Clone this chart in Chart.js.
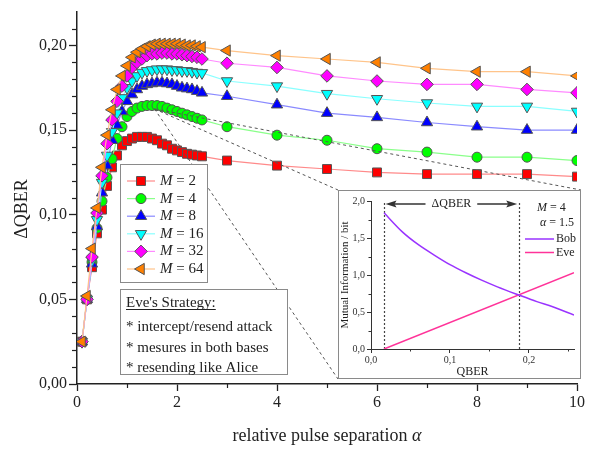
<!DOCTYPE html>
<html><head><meta charset="utf-8">
<script src="https://cdn.jsdelivr.net/npm/chart.js@4.4.1/dist/chart.umd.min.js"></script>
<style>
html,body{margin:0;padding:0;background:#fff;}
#wrap{position:relative;width:595px;height:449px;overflow:hidden;}
#main{position:absolute;left:0;top:0;}
#inset{position:absolute;}
</style></head>
<body><div id="wrap"><canvas id="main" width="595" height="449"></canvas><canvas id="inset"></canvas></div>
<script>
// ---------------- data ----------------
const alphaValues = [0.1,0.2,0.3,0.4,0.5,0.6,0.7,0.8,0.9,1.0,1.1,1.2,1.3,1.4,1.5,1.6,1.7,1.8,1.9,2.0,2.1,2.2,2.3,2.4,2.5,3,4,5,6,7,8,9,10];
const seriesM2  = [0.025,0.050,0.069,0.089,0.103,0.117,0.128,0.135,0.141,0.1435,0.145,0.146,0.146,0.146,0.145,0.144,0.142,0.141,0.139,0.138,0.137,0.136,0.1355,0.135,0.1345,0.132,0.129,0.127,0.125,0.124,0.124,0.124,0.1225];
const seriesM4  = [0.025,0.050,0.072,0.092,0.108,0.122,0.133,0.145,0.152,0.158,0.161,0.163,0.164,0.1645,0.1645,0.1645,0.164,0.163,0.162,0.161,0.160,0.159,0.158,0.157,0.156,0.152,0.147,0.144,0.139,0.137,0.134,0.134,0.132];
const seriesM8  = [0.025,0.050,0.071,0.093,0.113,0.129,0.144,0.153,0.161,0.167,0.171,0.174,0.176,0.177,0.1775,0.178,0.178,0.1775,0.177,0.176,0.175,0.1745,0.174,0.173,0.172,0.170,0.165,0.160,0.1575,0.1545,0.152,0.150,0.150];
const seriesM16 = [0.025,0.050,0.073,0.097,0.119,0.135,0.149,0.160,0.169,0.175,0.179,0.182,0.184,0.185,0.1855,0.186,0.186,0.186,0.1855,0.1855,0.185,0.185,0.1845,0.184,0.1838,0.179,0.176,0.1715,0.1685,0.166,0.164,0.164,0.161];
const seriesM32 = [0.025,0.050,0.075,0.101,0.123,0.142,0.156,0.167,0.176,0.182,0.187,0.190,0.192,0.194,0.195,0.195,0.1955,0.1955,0.195,0.195,0.1945,0.194,0.1935,0.193,0.192,0.1895,0.187,0.182,0.179,0.177,0.177,0.174,0.172];
const seriesM64 = [0.025,0.052,0.080,0.104,0.128,0.147,0.162,0.174,0.182,0.188,0.193,0.196,0.198,0.1995,0.2005,0.201,0.201,0.201,0.201,0.201,0.2005,0.200,0.200,0.1995,0.199,0.197,0.194,0.192,0.190,0.1865,0.1845,0.1845,0.182];
const mLabels = ['2','4','8','16','32','64'];
const xTickValues = [0,2,4,6,8,10];
const yTickValues = [0,0.05,0.10,0.15,0.20];
const zoomPoint = [1.55, 0.1625];

const eveTitle = "Eve's Strategy:";
const eveLines = ['* intercept/resend attack','* mesures in both bases','* resending like Alice'];

// inset data
const bobQber = [0.0165,0.04,0.06,0.08,0.10,0.12,0.14,0.16,0.187,0.21,0.23,0.257];
const bobInfo = [1.84,1.58,1.41,1.27,1.14,1.03,0.93,0.84,0.73,0.64,0.57,0.46];
const eveQber = [0.0165,0.257];
const eveInfo = [0.0,1.03];
const deltaQberBounds = [0.0165,0.187];
const insetXTicks = [0,0.1,0.2];
const insetYTicks = [0,0.5,1.0,1.5,2.0];

// ---------------- styles ----------------
const FONT = "'Liberation Serif','Times New Roman',serif";
const markerColors = ['#ff0000','#00ff00','#0000ff','#00ffff','#ff00ff','#ff8000'];
const lineColors = ['#ff8a8a','#8aff8a','#8a8aff','#8affff','#ff8aff','#ffc48a'];
const markerStyles = [
  {s:'rect',r:6.3,rot:0},{s:'circle',r:5,rot:0},{s:'triangle',r:6.5,rot:0},
  {s:'triangle',r:6.5,rot:180},{s:'rectRot',r:6.3,rot:0},{s:'triangle',r:6.5,rot:270}];
const allSeries = [seriesM2,seriesM4,seriesM8,seriesM16,seriesM32,seriesM64];

const INSET = {left:338, top:190, width:243, height:189};

const comma = (v,d)=>v.toFixed(d).replace('.',',');

// ---------------- main chart ----------------
const mainDecor = {
  id:'mainDecor',
  afterDatasetsDraw(chart){
    const ctx = chart.ctx, xs = chart.scales.x, ys = chart.scales.y;
    ctx.save();
    const px = xs.getPixelForValue(zoomPoint[0]), py = ys.getPixelForValue(zoomPoint[1]);
    ctx.strokeStyle = '#555'; ctx.lineWidth = 1; ctx.setLineDash([3,3]);
    [[INSET.left,INSET.top],[INSET.left,INSET.top+INSET.height],[INSET.left+INSET.width,INSET.top]].forEach(c=>{
      ctx.beginPath(); ctx.moveTo(px,py); ctx.lineTo(c[0],c[1]); ctx.stroke();
    });
    ctx.setLineDash([]);
    // legend box
    ctx.fillStyle = '#fff'; ctx.strokeStyle = '#8a8a8a'; ctx.lineWidth = 1;
    ctx.fillRect(120.5,164.5,87,118); ctx.strokeRect(120.5,164.5,87,118);
    chart.data.datasets.forEach((ds,i)=>{
      const yy = 181 + i*17.6;
      ctx.strokeStyle = ds.borderColor; ctx.lineWidth = 1.2;
      ctx.beginPath(); ctx.moveTo(127,yy); ctx.lineTo(155,yy); ctx.stroke();
      ctx.fillStyle = ds.pointBackgroundColor; ctx.strokeStyle = ds.pointBorderColor; ctx.lineWidth = 1;
      Chart.helpers.drawPoint(ctx,{pointStyle:ds.pointStyle,rotation:ds.pointRotation,radius:ds.pointRadius,borderWidth:1},141,yy);
      ctx.fillStyle = '#222'; ctx.textBaseline = 'middle'; ctx.textAlign = 'left';
      ctx.font = 'italic 15px ' + FONT; ctx.fillText('M',160,yy);
      const w = ctx.measureText('M').width;
      ctx.font = '15px ' + FONT; ctx.fillText(' = ' + mLabels[i],160+w,yy);
    });
    // Eve box
    ctx.fillStyle = '#fff'; ctx.strokeStyle = '#8a8a8a'; ctx.lineWidth = 1;
    ctx.fillRect(120.5,289.5,167,85); ctx.strokeRect(120.5,289.5,167,85);
    ctx.fillStyle = '#222'; ctx.font = '15px ' + FONT; ctx.textBaseline = 'alphabetic';
    ctx.fillText(eveTitle,126,307);
    const tw = ctx.measureText(eveTitle).width;
    ctx.strokeStyle = '#222'; ctx.lineWidth = 1;
    ctx.beginPath(); ctx.moveTo(126,309.5); ctx.lineTo(126+tw,309.5); ctx.stroke();
    eveLines.forEach((t,i)=>ctx.fillText(t,126,331+i*20.5));
    ctx.restore();
  },
  afterDraw(chart){
    const ctx = chart.ctx, xs = chart.scales.x, ys = chart.scales.y, a = chart.chartArea;
    ctx.save();
    ctx.strokeStyle = '#222'; ctx.lineWidth = 1.2;
    for(let i=1;i<=21;i++){ if(i%5===0) continue;
      const p = Math.round(ys.getPixelForValue(i/100))+0.5;
      ctx.beginPath(); ctx.moveTo(a.left-5,p); ctx.lineTo(a.left,p); ctx.stroke(); }
    for(let v=1;v<10;v+=2){
      const p = Math.round(xs.getPixelForValue(v))+0.5;
      ctx.beginPath(); ctx.moveTo(p,a.bottom); ctx.lineTo(p,a.bottom+4); ctx.stroke(); }
    ctx.fillStyle = '#222'; ctx.textBaseline = 'middle';
    ctx.font = '18px ' + FONT;
    const t1 = 'relative pulse separation ';
    const w1 = ctx.measureText(t1).width;
    ctx.font = 'italic 18px ' + FONT;
    const w2 = ctx.measureText('α').width;
    const x0 = (a.left+a.right)/2 - (w1+w2)/2;
    ctx.font = '18px ' + FONT; ctx.textAlign = 'left';
    ctx.fillText(t1,x0,436);
    ctx.font = 'italic 18px ' + FONT; ctx.fillText('α',x0+w1,436);
    ctx.translate(22,209); ctx.rotate(-Math.PI/2);
    ctx.font = '18px ' + FONT; ctx.textAlign = 'center';
    ctx.fillText('ΔQBER',0,0);
    ctx.restore();
  }
};

new Chart(document.getElementById('main'),{
  type:'line',
  data:{datasets: allSeries.map((s,i)=>({
    label:'M = '+mLabels[i],
    data: alphaValues.map((a,j)=>({x:a,y:s[j]})),
    borderColor: lineColors[i], borderWidth:1.2,
    pointBackgroundColor: markerColors[i], pointBorderColor:'#555', pointBorderWidth:1,
    pointStyle: markerStyles[i].s, pointRadius: markerStyles[i].r, pointRotation: markerStyles[i].rot,
    tension:0, fill:false, order: 6-i
  }))},
  options:{
    responsive:false, animation:false, devicePixelRatio:1,
    layout:{padding:{left:0,right:18,top:8,bottom:0}},
    plugins:{legend:{display:false},tooltip:{enabled:false}},
    scales:{
      x:{type:'linear',min:0,max:10,
        afterBuildTicks:s=>{s.ticks = xTickValues.map(v=>({value:v}));},
        afterFit:s=>{s.height = 65;},
        grid:{drawOnChartArea:false,drawTicks:true,tickLength:7,tickColor:'#222',tickWidth:1.3},
        border:{color:'#222',width:1.5},
        ticks:{color:'#222',font:{family:FONT,size:16},padding:2,maxRotation:0,autoSkip:false,callback:v=>String(v)}
      },
      y:{type:'linear',min:0,max:0.22,
        afterBuildTicks:s=>{s.ticks = yTickValues.map(v=>({value:v}));},
        afterFit:s=>{s.width = 77;},
        grid:{drawOnChartArea:false,drawTicks:true,tickLength:8,tickColor:'#222',tickWidth:1.3},
        border:{color:'#222',width:1.5},
        ticks:{color:'#222',font:{family:FONT,size:16},padding:2,autoSkip:false,callback:v=>comma(v,2)}
      }
    }
  },
  plugins:[mainDecor]
});

// ---------------- inset chart ----------------
const ic = document.getElementById('inset');
ic.width = INSET.width; ic.height = INSET.height;
ic.style.left = INSET.left+'px'; ic.style.top = INSET.top+'px';

const insetDecor = {
  id:'insetDecor',
  beforeDraw(chart){ const c = chart.ctx; c.save(); c.fillStyle='#fff'; c.fillRect(0,0,chart.width,chart.height); c.restore(); },
  beforeDatasetsDraw(chart){
    const ctx = chart.ctx, xs = chart.scales.x, ys = chart.scales.y;
    ctx.save(); ctx.strokeStyle = '#444'; ctx.lineWidth = 1.2; ctx.setLineDash([2,2]);
    deltaQberBounds.forEach(b=>{ const p = Math.round(xs.getPixelForValue(b))+0.5;
      ctx.beginPath(); ctx.moveTo(p,ys.getPixelForValue(0)); ctx.lineTo(p,ys.getPixelForValue(2.0)); ctx.stroke(); });
    ctx.restore();
  },
  afterDraw(chart){
    const ctx = chart.ctx, xs = chart.scales.x, ys = chart.scales.y, a = chart.chartArea;
    ctx.save();
    ctx.strokeStyle = '#333'; ctx.lineWidth = 1;
    [0.05,0.15,0.25].forEach(v=>{ const p = Math.round(xs.getPixelForValue(v))+0.5;
      ctx.beginPath(); ctx.moveTo(p,a.bottom); ctx.lineTo(p,a.bottom+2.5); ctx.stroke(); });
    [0.25,0.75,1.25,1.75].forEach(v=>{ const p = Math.round(ys.getPixelForValue(v))+0.5;
      ctx.beginPath(); ctx.moveTo(a.left-2.5,p); ctx.lineTo(a.left,p); ctx.stroke(); });
    const x1 = xs.getPixelForValue(deltaQberBounds[0])+1.5, x2 = xs.getPixelForValue(deltaQberBounds[1])-1.5;
    const ya = ys.getPixelForValue(1.96);
    const mid = (x1+x2)/2;
    ctx.font = '12px ' + FONT;
    const tw = ctx.measureText('ΔQBER').width;
    ctx.strokeStyle = '#333'; ctx.lineWidth = 1.6;
    ctx.beginPath(); ctx.moveTo(x1+8,ya); ctx.lineTo(mid-tw/2-6,ya); ctx.moveTo(mid+tw/2+6,ya); ctx.lineTo(x2-8,ya); ctx.stroke();
    ctx.fillStyle = '#333';
    ctx.beginPath(); ctx.moveTo(x1,ya); ctx.lineTo(x1+11,ya-3.5); ctx.lineTo(x1+9,ya); ctx.lineTo(x1+11,ya+3.5); ctx.closePath(); ctx.fill();
    ctx.beginPath(); ctx.moveTo(x2,ya); ctx.lineTo(x2-11,ya-3.5); ctx.lineTo(x2-9,ya); ctx.lineTo(x2-11,ya+3.5); ctx.closePath(); ctx.fill();
    ctx.fillStyle = '#222'; ctx.textAlign = 'center'; ctx.textBaseline = 'middle';
    ctx.fillText('ΔQBER',mid,ya);
    const L = INSET.left, T = INSET.top;
    ctx.textAlign = 'left';
    ctx.font = 'italic 12px ' + FONT; ctx.fillText('M',537-L,208-T);
    let w = ctx.measureText('M').width;
    ctx.font = '12px ' + FONT; ctx.fillText(' = 4',537-L+w,208-T);
    ctx.font = 'italic 12px ' + FONT; ctx.fillText('α',540-L,223-T);
    w = ctx.measureText('α').width;
    ctx.font = '12px ' + FONT; ctx.fillText(' = 1.5',540-L+w,223-T);
    chart.data.datasets.forEach((ds,i)=>{
      const yy = 239 - T + i*13.5;
      ctx.strokeStyle = ds.borderColor; ctx.lineWidth = 1.5;
      ctx.beginPath(); ctx.moveTo(525-L,yy); ctx.lineTo(554-L,yy); ctx.stroke();
      ctx.fillStyle = '#222'; ctx.font = '12px ' + FONT; ctx.fillText(ds.label,556-L,yy);
    });
    ctx.strokeStyle = '#8a8a8a'; ctx.lineWidth = 1;
    ctx.strokeRect(0.5,0.5,chart.width-1,chart.height-1);
    ctx.restore();
  }
};

new Chart(ic,{
  type:'line',
  data:{datasets:[
    {label:'Bob',data:bobQber.map((q,i)=>({x:q,y:bobInfo[i]})),borderColor:'#9933ff',borderWidth:1.5,pointRadius:0,cubicInterpolationMode:'monotone',fill:false},
    {label:'Eve',data:eveQber.map((q,i)=>({x:q,y:eveInfo[i]})),borderColor:'#ff3399',borderWidth:1.5,pointRadius:0,tension:0,fill:false}
  ]},
  options:{
    responsive:false, animation:false, devicePixelRatio:1,
    layout:{padding:{left:0,right:7,top:11,bottom:0}},
    plugins:{legend:{display:false},tooltip:{enabled:false}},
    scales:{
      x:{type:'linear',min:0,max:0.257,
        afterBuildTicks:s=>{s.ticks = insetXTicks.map(v=>({value:v}));},
        afterFit:s=>{s.height = 30;},
        grid:{drawOnChartArea:false,drawTicks:true,tickLength:4,tickColor:'#333',tickWidth:1},
        border:{color:'#333',width:1},
        ticks:{color:'#333',font:{family:FONT,size:10},padding:1,maxRotation:0,autoSkip:false,callback:v=>comma(v,1)},
        title:{display:true,text:'QBER',color:'#222',font:{family:FONT,size:12},padding:{top:0,bottom:0}}
      },
      y:{type:'linear',min:0,max:2.0,
        afterBuildTicks:s=>{s.ticks = insetYTicks.map(v=>({value:v}));},
        afterFit:s=>{s.width = 33;},
        grid:{drawOnChartArea:false,drawTicks:true,tickLength:4,tickColor:'#333',tickWidth:1},
        border:{color:'#333',width:1},
        ticks:{color:'#333',font:{family:FONT,size:10},padding:2,autoSkip:false,callback:v=>comma(v,1)},
        title:{display:true,text:'Mutual Information / bit',color:'#222',font:{family:FONT,size:11},padding:{top:1,bottom:0}}
      }
    }
  },
  plugins:[insetDecor]
});
</script>
</body></html>
